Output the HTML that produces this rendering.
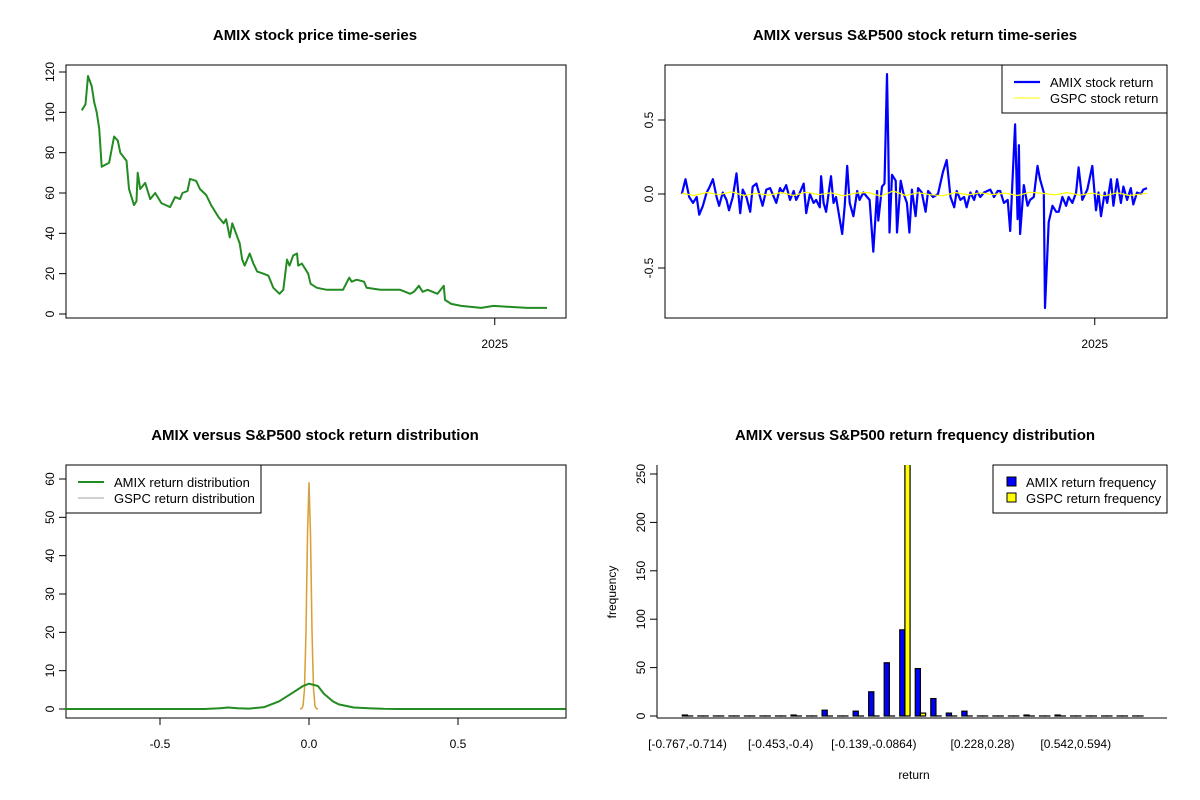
<!DOCTYPE html>
<html><head><meta charset="utf-8"><style>
body{margin:0;background:#fff}
svg{display:block;font-family:"Liberation Sans",Arial,sans-serif}
</style></head><body>
<svg id="s" width="1200" height="800" viewBox="0 0 1200 800"></svg>
<script>
// ---- data ----
const priceDays=[-332,-329,-327,-324,-322,-320,-318,-316,-310,-306,-303,-301,-296,-294,-290,-288,-287,-285,-281,-277,-273,-268,-261,-257,-253,-251,-247,-245,-240,-237,-232,-228,-222,-218,-216,-213,-211,-208,-205,-203,-201,-197,-194,-191,-186,-182,-178,-173,-170,-167,-165,-162,-159,-158,-155,-150,-148,-143,-135,-122,-117,-115,-111,-105,-103,-92,-76,-68,-65,-61,-58,-54,-46,-41,-40,-35,-27,-11,-1,26,42];
const priceVals=[101,104,118,113,105,100,92,73,75,88,86,80,76,62,54,56,70,62,65,57,60,55,53,58,57,60,61,67,66,62,59,54,48,45,47,38,45,40,35,27,24,30,25,21,20,19,13,10,12,27,24,29,30,24,25,20,15,13,12,12,18,16,17,16,13,12,12,10,11,14,11,12,10,14,7,5,4,3,4,3,3];
const retDays=[-332,-329,-326,-323,-320,-318,-315,-312,-310,-307,-304,-302,-299,-296,-294,-291,-288,-285,-283,-280,-277,-275,-272,-269,-267,-264,-261,-256,-253,-251,-248,-245,-242,-240,-237,-234,-232,-229,-226,-224,-221,-220,-218,-216,-212,-210,-208,-203,-201,-199,-197,-194,-191,-189,-186,-183,-181,-178,-175,-174,-171,-169,-167,-166,-165,-163,-160,-159,-156,-154,-151,-149,-147,-144,-142,-139,-136,-134,-130,-126,-122,-119,-116,-113,-111,-108,-105,-103,-100,-97,-95,-92,-89,-84,-81,-78,-76,-73,-70,-68,-66,-64,-62,-61,-60,-57,-54,-52,-49,-46,-44,-41,-40,-38,-37,-34,-31,-29,-26,-23,-21,-18,-15,-13,-10,-6,-2,1,3,5,8,10,13,15,18,21,23,26,29,31,34,37,39,42];
const amixRet=[0,.10,-.02,-.06,-.02,-.14,-.08,.01,.04,.10,-.02,-.08,.01,-.04,-.11,-.02,.14,-.13,.03,-.02,-.12,.05,.07,-.02,-.08,.03,.04,-.06,.04,.01,.06,-.04,.02,-.04,.01,.07,-.13,0,-.06,-.04,-.09,.12,-.06,-.12,.12,-.06,-.02,-.27,-.08,.19,-.06,-.15,.02,-.04,.01,-.02,-.04,-.39,.02,-.18,.05,.07,.81,.32,-.26,.13,.09,-.26,.09,.01,-.06,-.26,.03,-.15,.04,.01,-.12,.02,-.02,0,.15,.23,-.02,-.09,.02,-.04,-.02,-.09,.01,-.04,.02,-.02,.01,.03,-.02,.02,.02,-.06,-.04,-.25,.12,.47,-.17,.33,-.27,.06,-.08,-.04,-.02,.19,.10,.01,-.77,-.38,-.19,-.08,-.12,-.12,-.02,-.08,-.02,-.06,.01,.18,-.04,.03,.19,-.11,.01,-.15,.01,-.06,.10,-.08,.10,-.06,.05,-.04,.04,-.07,.01,0,.03,.04];
const gspcDays=[-332,-322,-312,-302,-292,-282,-272,-262,-252,-242,-232,-222,-212,-202,-192,-182,-172,-162,-152,-142,-132,-122,-112,-102,-92,-82,-72,-62,-52,-42,-32,-22,-12,-2,8,18,28,42];
const gspcRet=[.005,-.01,.01,-.005,.015,-.01,.005,-.008,.01,-.01,.012,-.005,.008,-.012,.006,.01,-.015,.02,-.01,.008,-.005,-.012,.01,-.006,.008,-.004,.006,-.01,.012,.004,-.006,.01,-.008,.006,-.012,.008,-.01,.005];
const densX=[-0.82,-0.35,-0.3,-0.27,-0.24,-0.2,-0.15,-0.1,-0.05,-0.02,0,0.03,0.05,0.08,0.1,0.15,0.2,0.25,0.3,0.86];
const amixDens=[0,0,0.2,0.4,0.2,0.1,0.5,2,4.5,6,6.6,6,4,2,1.2,0.4,0.2,0.05,0,0];
const gX=[-0.03,-0.025,-0.02,-0.015,-0.01,-0.005,0,0.005,0.01,0.015,0.02,0.025,0.03];
const gspcDens=[0,0.07,0.8,5.2,20.3,45.5,59,45.5,20.3,5.2,0.8,0.07,0];
const binLabels=["[-0.767,-0.714)","[-0.714,-0.662)","[-0.662,-0.61)","[-0.61,-0.557)","[-0.557,-0.505)","[-0.505,-0.453)","[-0.453,-0.4)","[-0.4,-0.348)","[-0.348,-0.296)","[-0.296,-0.243)","[-0.243,-0.191)","[-0.191,-0.139)","[-0.139,-0.0864)","[-0.0864,-0.0341)","[-0.0341,0.0182)","[0.0182,0.0705)","[0.0705,0.123)","[0.123,0.175)","[0.175,0.228)","[0.228,0.28)","[0.28,0.333)","[0.333,0.385)","[0.385,0.437)","[0.437,0.49)","[0.49,0.542)","[0.542,0.594)","[0.594,0.647)","[0.647,0.699)","[0.699,0.751)","[0.751,0.804]"];
const amixFreq=[1,0,0,0,0,0,0,1,0,6,0,5,25,55,89,49,18,3,5,0,0,0,1,0,1,0,0,0,0,0];
const gspcFreq=[0,0,0,0,0,0,0,0,0,0,0,0,0,0,300,3,0,0,0,0,0,0,0,0,0,0,0,0,0,0];
const shownBins=[0,6,12,19,25];

const S=document.getElementById('s');const NS='http://www.w3.org/2000/svg';
function el(t,a,txt){const e=document.createElementNS(NS,t);for(const k in a)e.setAttribute(k,a[k]);if(txt!=null)e.textContent=txt;S.appendChild(e);return e;}
function lin(d0,d1,r0,r1){return v=>r0+(v-d0)*(r1-r0)/(d1-d0);}
function path(xs,ys,fx,fy,col,w,name){let d='';xs.forEach((x,i)=>{d+=(i?'L':'M')+fx(x).toFixed(1)+','+fy(ys[i]).toFixed(1);});const p=el('path',{d:d,fill:'none',stroke:col,'stroke-width':w,'stroke-linejoin':'round'});return p;}
function box(x0,y0,x1,y1,name){const r=el('rect',{x:x0,y:y0,width:x1-x0,height:y1-y0,fill:'none',stroke:'#000','stroke-width':1});}
function title(x,y,t,name){const e=el('text',{x:x,y:y,'text-anchor':'middle','font-size':15,'font-weight':'bold'},t);}
function yticks(vals,fy,x0,name,lbl){vals.forEach((v,i)=>{const y=fy(v);el('line',{x1:x0-7,x2:x0,y1:y,y2:y,stroke:'#000'});const t=el('text',{x:x0-12,y:y,'font-size':12,'text-anchor':'middle',transform:`rotate(-90 ${x0-12} ${y})`},lbl[i]);});}

// panel 1: price
const px1=lin(-331,42,83,547),py1=lin(0,120,314,72);
box(66,65,566,318,'price-plot-area');
title(315,40,'AMIX stock price time-series','price-title');
yticks([0,20,40,60,80,100,120],py1,66,'price-y-tick',['0','20','40','60','80','100','120']);
el('line',{x1:px1(0),x2:px1(0),y1:318,y2:325,stroke:'#000'});
let t1=el('text',{x:px1(0),y:348,'font-size':12,'text-anchor':'middle'},'2025');
path(priceDays,priceVals,px1,py1,'#228B22',2,'price-line');

// panel 2: returns
const px2=lin(-331,42,683,1147),py2=lin(0,0.5,194,120);
box(665,65,1167,318,'return-plot-area');
title(915,40,'AMIX versus S&P500 stock return time-series','return-title');
yticks([-0.5,0,0.5],py2,665,'return-y-tick',['-0.5','0.0','0.5']);
el('line',{x1:px2(0),x2:px2(0),y1:318,y2:325,stroke:'#000'});
let t2=el('text',{x:px2(0),y:348,'font-size':12,'text-anchor':'middle'},'2025');
path(retDays,amixRet,px2,py2,'#0000ff',2.2,'amix-return-line');
path(gspcDays,gspcRet,px2,py2,'#ffff00',1.2,'gspc-return-line');
let lg=el('rect',{x:1002,y:65,width:165,height:48,fill:'#fff',stroke:'#000'});
el('line',{x1:1014,x2:1040,y1:82,y2:82,stroke:'#00f','stroke-width':2.2});
el('text',{x:1050,y:87,'font-size':13},'AMIX stock return');
el('line',{x1:1014,x2:1040,y1:98,y2:98,stroke:'#ffff00','stroke-width':1});
el('text',{x:1050,y:103,'font-size':13},'GSPC stock return');

// panel 3: density
const px3=lin(0,0.5,309,458),py3=lin(0,60,709,479);
box(66,465,566,718,'density-plot-area');
title(315,440,'AMIX versus S&P500 stock return distribution','density-title');
yticks([0,10,20,30,40,50,60],py3,66,'density-y-tick',['0','10','20','30','40','50','60']);
[-0.5,0,0.5].forEach((v,i)=>{const x=px3(v);el('line',{x1:x,x2:x,y1:718,y2:725,stroke:'#000'});const t=el('text',{x:x,y:748,'font-size':12,'text-anchor':'middle'},['-0.5','0.0','0.5'][i]);});
path(gX,gspcDens,px3,py3,'#FFA500',1.6,'gspc-density-orange');
path(gX,gspcDens,px3,py3,'#a0a0a0',0.6,'gspc-density-line');
path(densX,amixDens,px3,py3,'#228B22',2,'amix-density-line');
let lg2=el('rect',{x:66,y:465,width:195,height:48,fill:'#fff',stroke:'#000'});
el('line',{x1:78,x2:104,y1:482,y2:482,stroke:'#228B22','stroke-width':2});
el('text',{x:114,y:487,'font-size':13},'AMIX return distribution');
el('line',{x1:78,x2:104,y1:498,y2:498,stroke:'#a0a0a0','stroke-width':1});
el('text',{x:114,y:503,'font-size':13},'GSPC return distribution');

// panel 4: histogram
const py4=lin(0,250,716,474);const gw=15.53,bw=gw/3,gx0=682.3;
title(915,440,'AMIX versus S&P500 return frequency distribution','hist-title');
const clip=el('clipPath',{id:'c4'});const cr=document.createElementNS(NS,'rect');cr.setAttribute('x',657);cr.setAttribute('y',465);cr.setAttribute('width',510);cr.setAttribute('height',253);clip.appendChild(cr);
const g=el('g',{'clip-path':'url(#c4)'});
function bar(x,v,fill,name){const r=document.createElementNS(NS,'rect');const h=Math.max(py4(0)-py4(v),0.05);r.setAttribute('x',x);r.setAttribute('y',py4(0)-h);r.setAttribute('width',bw);r.setAttribute('height',h);r.setAttribute('fill',fill);r.setAttribute('stroke','#000');r.setAttribute('stroke-width',1.2);g.appendChild(r);return r;}
amixFreq.forEach((v,i)=>{const x=gx0+i*gw;
 const r=bar(x,v,'#0000ff');
 
 
 const r2=bar(x+bw,gspcFreq[i],'#ffff00');
 
 });
el('line',{x1:657,x2:657,y1:465,y2:718,stroke:'#000'});
el('line',{x1:657,x2:1167,y1:718,y2:718,stroke:'#000'});
yticks([0,50,100,150,200,250],py4,657,'hist-y-tick',['0','50','100','150','200','250']);
shownBins.forEach(i=>{const t=el('text',{x:gx0+i*gw+bw,y:748,'font-size':12,'text-anchor':'middle'},binLabels[i]);});
let yl=el('text',{x:616,y:592,'font-size':12,'text-anchor':'middle',transform:'rotate(-90 616 592)'},'frequency');
let xl=el('text',{x:914,y:779,'font-size':12,'text-anchor':'middle'},'return');
let lg3=el('rect',{x:993,y:465,width:174,height:48,fill:'#fff',stroke:'#000'});
el('rect',{x:1007,y:477,width:9,height:9,fill:'#00f',stroke:'#000'});
el('text',{x:1026,y:487,'font-size':13},'AMIX return frequency');
el('rect',{x:1007,y:493,width:9,height:9,fill:'#ff0',stroke:'#000'});
el('text',{x:1026,y:503,'font-size':13},'GSPC return frequency');
</script>
</body></html>
